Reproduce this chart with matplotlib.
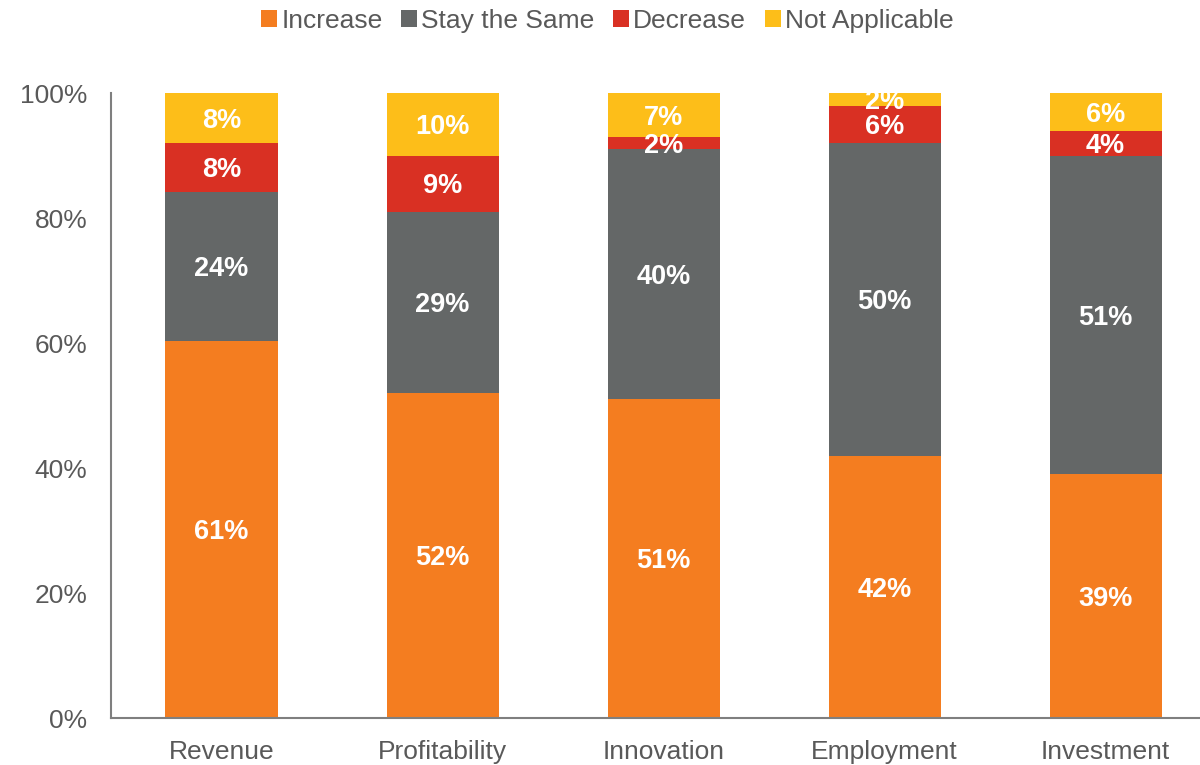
import matplotlib.pyplot as plt
import numpy as np

plt.rcParams['font.family'] = ['Liberation Sans', 'DejaVu Sans']

categories = ["Revenue", "Profitability", "Innovation", "Employment", "Investment"]
increase = [61, 52, 51, 42, 39]
stay_same = [24, 29, 40, 50, 51]
decrease = [8, 9, 2, 6, 4]
not_applicable = [8, 10, 7, 2, 6]

series = [("Increase", increase, "#F47D20"),
          ("Stay the Same", stay_same, "#646767"),
          ("Decrease", decrease, "#D93023"),
          ("Not Applicable", not_applicable, "#FDBE19")]

data = np.array([s[1] for s in series], dtype=float)
totals = data.sum(axis=0)
shares = data / totals * 100  # stacked to 100%

fig = plt.figure(figsize=(12, 7.65), dpi=100)
ax = fig.add_axes([0.0925, 0.0614, 0.921, 0.817])

x = np.arange(len(categories))
bottom = np.zeros(len(categories))
for (name, vals, color), h in zip(series, shares):
    ax.bar(x, h, 0.507, bottom=bottom, color=color, label=name, linewidth=0)
    for xi, b, hi, v in zip(x, bottom, h, vals):
        ax.text(xi, b + hi / 2 - 0.45, f"{v}%", ha="center", va="center",
                color="white", fontsize=19.5, fontweight="bold")
    bottom += h

ax.set_xlim(-0.5, 4.5)
ax.set_ylim(0, 100)
ax.set_yticks(np.arange(0, 101, 20))
ax.set_yticklabels([f"{v}%" for v in range(0, 101, 20)])
ax.set_xticks(x)
ax.set_xticklabels(categories)
ax.tick_params(length=0, labelsize=19, colors="#595959")
ax.tick_params(axis="y", pad=17)
ax.tick_params(axis="x", pad=16)
for side in ["top", "right"]:
    ax.spines[side].set_visible(False)
for side in ["left", "bottom"]:
    ax.spines[side].set_color("#7F7F7F")
    ax.spines[side].set_linewidth(1.5)

fig.legend(loc="center", bbox_to_anchor=(0.506, 0.973), ncol=4, frameon=False,
           fontsize=19, handlelength=0.62, handleheight=0.62, handletextpad=0.15,
           columnspacing=0.7, labelcolor="#595959")

plt.savefig("out.png", dpi=100)
